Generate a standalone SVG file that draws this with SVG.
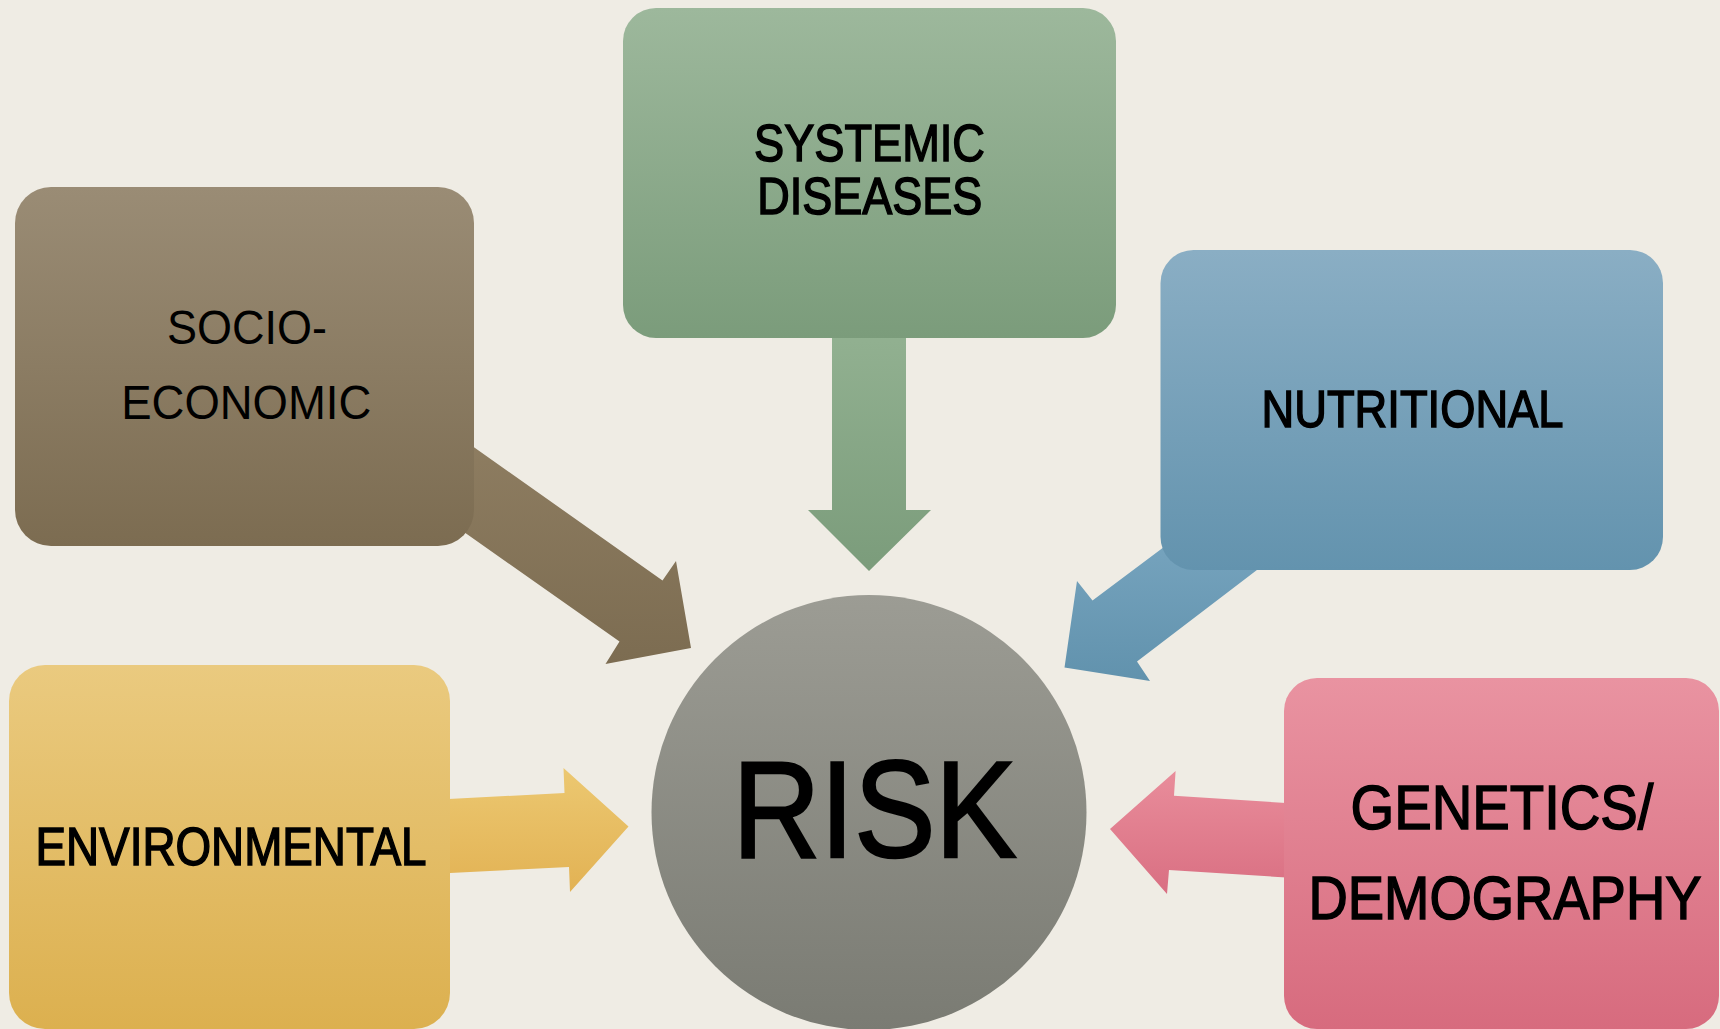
<svg xmlns="http://www.w3.org/2000/svg" width="1720" height="1029" viewBox="0 0 1720 1029">
  <defs>
    <linearGradient id="gSys" x1="0" y1="0" x2="0" y2="1"><stop offset="0" stop-color="#9db89c"/><stop offset="1" stop-color="#7b9c7b"/></linearGradient>
    <linearGradient id="gSoc" x1="0" y1="0" x2="0" y2="1"><stop offset="0" stop-color="#9a8c75"/><stop offset="1" stop-color="#7c6c51"/></linearGradient>
    <linearGradient id="gNut" x1="0" y1="0" x2="0" y2="1"><stop offset="0" stop-color="#8aaec4"/><stop offset="1" stop-color="#6393ae"/></linearGradient>
    <linearGradient id="gEnv" x1="0" y1="0" x2="0" y2="1"><stop offset="0" stop-color="#eaca7f"/><stop offset="1" stop-color="#dcb04f"/></linearGradient>
    <linearGradient id="gGen" x1="0" y1="0" x2="0" y2="1"><stop offset="0" stop-color="#e993a1"/><stop offset="1" stop-color="#d76b7e"/></linearGradient>
    <linearGradient id="gRisk" x1="0" y1="0" x2="0" y2="1"><stop offset="0" stop-color="#9c9c94"/><stop offset="1" stop-color="#7a7b73"/></linearGradient>
    <linearGradient id="aSys" x1="0" y1="0" x2="0" y2="1"><stop offset="0" stop-color="#92b191"/><stop offset="1" stop-color="#7b9c7b"/></linearGradient>
    <linearGradient id="aSoc" x1="0" y1="0" x2="0" y2="1"><stop offset="0" stop-color="#907f63"/><stop offset="1" stop-color="#7c6c51"/></linearGradient>
    <linearGradient id="aNut" x1="0" y1="0" x2="0" y2="1"><stop offset="0" stop-color="#79a6c0"/><stop offset="1" stop-color="#6192ad"/></linearGradient>
    <linearGradient id="aEnv" x1="0" y1="0" x2="0" y2="1"><stop offset="0" stop-color="#ecc871"/><stop offset="1" stop-color="#e2b254"/></linearGradient>
    <linearGradient id="aGen" x1="0" y1="0" x2="0" y2="1"><stop offset="0" stop-color="#e98d9b"/><stop offset="1" stop-color="#d96f82"/></linearGradient>
  </defs>
  <style>
    .lbl { font-family: "Liberation Sans", Arial, sans-serif; fill: #000; text-anchor: middle; }
    .med { stroke: #000; stroke-width: 1.5; }
    .big { stroke: #000; stroke-width: 2.5; }
  </style>
  <rect x="0" y="0" width="1720" height="1029" fill="#efece4"/>

  <g id="connectors">
    <polygon id="arrow-systemic" fill="url(#aSys)" points="832,330 906,330 906,510 931,510 869,571 808,510 832,510"/>
    <polygon id="arrow-socio" fill="url(#aSoc)" points="420,409 662.5,580.5 676,561 691,648 605.5,664 619.5,641.5 420,501"/>
    <polygon id="arrow-nutritional" fill="url(#aNut)" points="1200,520 1092.5,600.5 1077,581 1064.5,667.5 1150,681 1137,661.5 1300,537"/>
    <polygon id="arrow-environmental" fill="url(#aEnv)" points="420,800.5 564.5,793 563.5,768 628.5,826.5 570,892 569,867 420,874.5"/>
    <polygon id="arrow-genetics" fill="url(#aGen)" points="1310,804.5 1174,795.7 1175.6,771 1110,829 1167,894 1169,870 1310,879"/>
  </g>

  <g id="node-systemic">
    <rect x="623" y="8" width="493" height="330" rx="33" fill="url(#gSys)"/>
    <text class="lbl med" x="869.5" y="161" font-size="52" textLength="231" lengthAdjust="spacingAndGlyphs">SYSTEMIC</text>
    <text class="lbl med" x="869.8" y="214" font-size="52" textLength="225" lengthAdjust="spacingAndGlyphs">DISEASES</text>
  </g>

  <g id="node-socio">
    <rect x="15" y="187" width="459" height="359" rx="36" fill="url(#gSoc)"/>
    <text class="lbl" x="247" y="344" font-size="49" textLength="160" lengthAdjust="spacingAndGlyphs">SOCIO-</text>
    <text class="lbl" x="246.3" y="419" font-size="49" textLength="250" lengthAdjust="spacingAndGlyphs">ECONOMIC</text>
  </g>

  <g id="node-nutritional">
    <rect x="1160.5" y="250" width="502.5" height="320" rx="33" fill="url(#gNut)"/>
    <text class="lbl med" x="1412.5" y="427" font-size="52" textLength="302" lengthAdjust="spacingAndGlyphs">NUTRITIONAL</text>
  </g>

  <g id="node-environmental">
    <rect x="9" y="665" width="441" height="364" rx="36" fill="url(#gEnv)"/>
    <text class="lbl med" x="231" y="865" font-size="53" textLength="391" lengthAdjust="spacingAndGlyphs">ENVIRONMENTAL</text>
  </g>

  <g id="node-genetics">
    <rect x="1284" y="678" width="435" height="351" rx="33" fill="url(#gGen)"/>
    <text class="lbl med" x="1502" y="829" font-size="63" textLength="303" lengthAdjust="spacingAndGlyphs">GENETICS/</text>
    <text class="lbl med" x="1505" y="919" font-size="62" textLength="393" lengthAdjust="spacingAndGlyphs">DEMOGRAPHY</text>
  </g>

  <g id="node-risk">
    <circle cx="869" cy="812.5" r="217.5" fill="url(#gRisk)"/>
    <text class="lbl big" x="874.5" y="857" font-size="138" textLength="284" lengthAdjust="spacingAndGlyphs">RISK</text>
  </g>
</svg>
